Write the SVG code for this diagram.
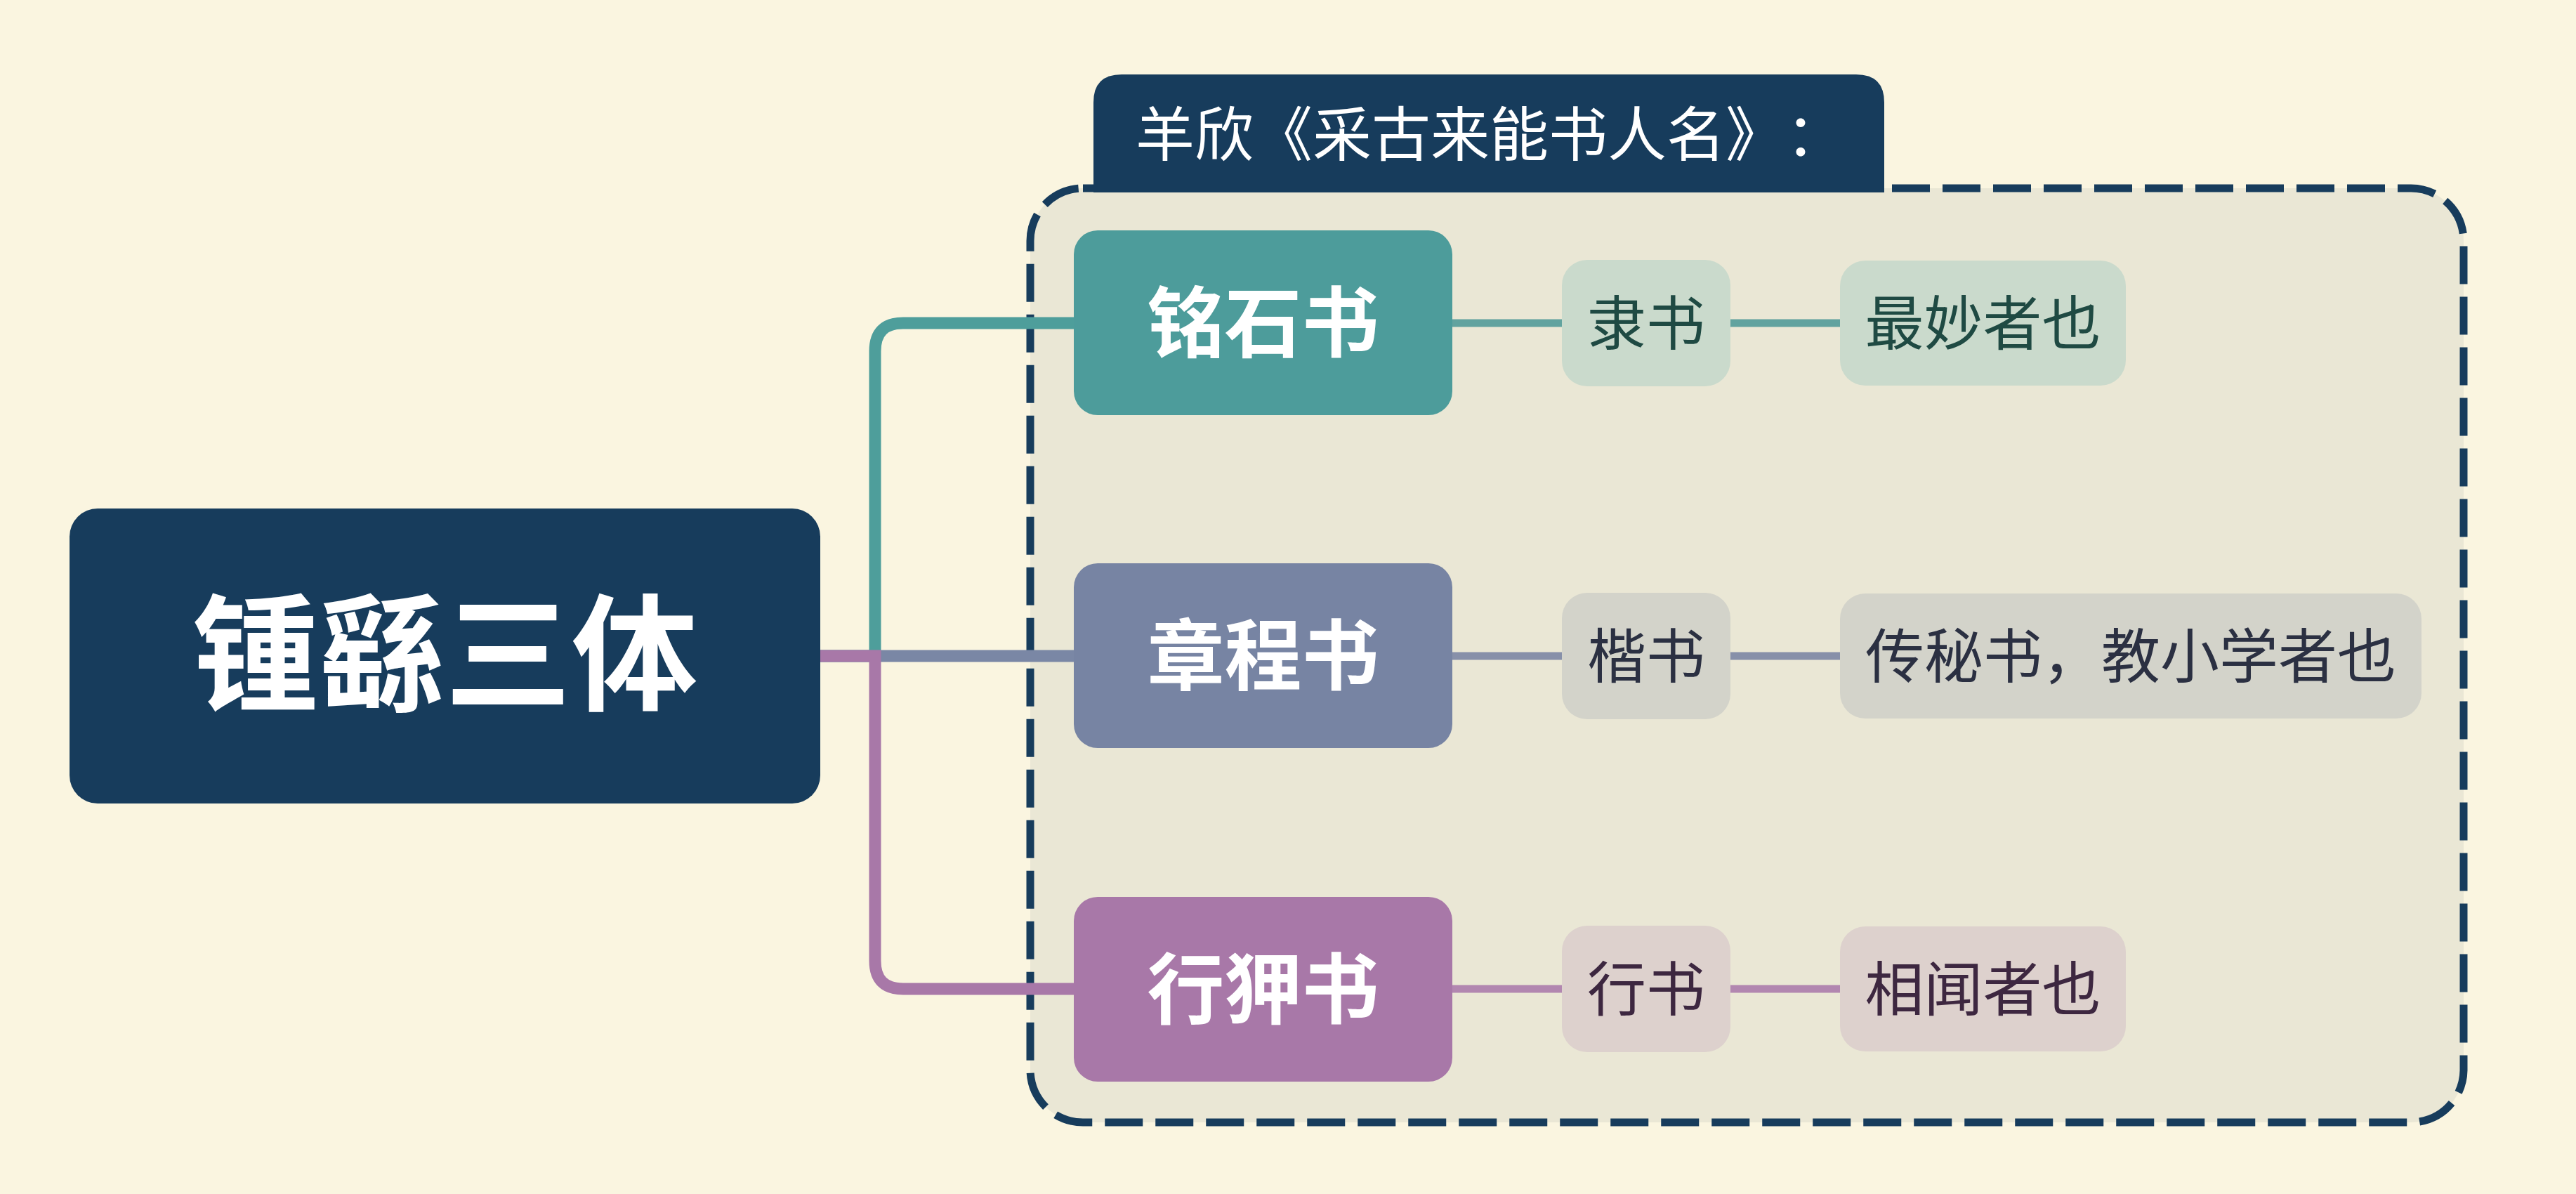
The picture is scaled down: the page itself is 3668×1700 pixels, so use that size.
<svg xmlns="http://www.w3.org/2000/svg" width="3668" height="1700" viewBox="0 0 3668 1700">
<style>
text{font-family:"Noto Sans CJK SC","Noto Sans",sans-serif;}
.root{font-size:180px;font-weight:700;fill:#FFFFFF;text-anchor:middle;}
.br{font-size:110px;font-weight:700;fill:#FFFFFF;text-anchor:middle;}
.ch{font-size:84px;text-anchor:middle;}
.tab{font-size:84px;fill:#FFFFFF;}
.trunk{fill:none;stroke-width:17;}
.link{fill:none;stroke-width:11;}
</style>
<rect x="0" y="0" width="3668" height="1700" fill="#FAF5E0"/>
<g id="boundary">
<rect x="1467" y="268" width="2041" height="1330" rx="75" ry="75" fill="#EAE7D5" stroke="#173C5C" stroke-width="11" stroke-dasharray="54 18"/>
<path d="M1557,274 V146 Q1557,106 1597,106 H2643 Q2683,106 2683,146 V274 Z" fill="#173C5C"/>
<text class="tab" x="1617" y="222">羊欣《采古来能书人名》<tspan dx="44">：</tspan></text>
</g>
<g id="connectors">
<path class="trunk" stroke="#4E9E9B" d="M1168,934 H1246 V500 Q1246,460 1286,460 H1529"/>
<path class="trunk" stroke="#7A87A5" d="M1168,934 H1529"/>
<path class="trunk" stroke="#A878A8" d="M1168,934 H1246 V1368 Q1246,1408 1286,1408 H1529"/>
<path class="link" stroke="#62A39F" d="M2068,460 H2224 M2464,460 H2620"/>
<path class="link" stroke="#8790A9" d="M2068,934 H2224 M2464,934 H2620"/>
<path class="link" stroke="#B287B0" d="M2068,1408 H2224 M2464,1408 H2620"/>
</g>
<g id="root">
<rect x="99" y="724" width="1069" height="420" rx="40" ry="40" fill="#173C5C"/>
<text class="root" x="633.5" y="997">锺繇三体</text>
</g>
<g id="n-mingshi">
<rect x="1529" y="328" width="539" height="263" rx="34" ry="34" fill="#4D9C9B"/>
<text class="br" x="1798.5" y="500">铭石书</text>
</g>
<g id="n-zhangcheng">
<rect x="1529" y="802" width="539" height="263" rx="34" ry="34" fill="#7784A3"/>
<text class="br" x="1798.5" y="974">章程书</text>
</g>
<g id="n-xingxia">
<rect x="1529" y="1277" width="539" height="263" rx="34" ry="34" fill="#A878A8"/>
<text class="br" x="1798.5" y="1449">行狎书</text>
</g>
<g id="n-lishu">
<rect x="2224" y="370" width="240" height="180" rx="36" ry="36" fill="#CADACC"/>
<text class="ch" x="2344" y="491" fill="#1F4A43">隶书</text>
</g>
<g id="n-zuimiao">
<rect x="2620" y="371" width="407" height="178" rx="36" ry="36" fill="#CADACC"/>
<text class="ch" x="2823.5" y="491" fill="#1F4A43">最妙者也</text>
</g>
<g id="n-kaishu">
<rect x="2224" y="844" width="240" height="180" rx="36" ry="36" fill="#D3D3CA"/>
<text class="ch" x="2344" y="965" fill="#2B3042">楷书</text>
</g>
<g id="n-chuanmi">
<rect x="2620" y="845" width="828" height="178" rx="36" ry="36" fill="#D3D3CA"/>
<text class="ch" x="3034" y="965" fill="#2B3042">传秘书，教小学者也</text>
</g>
<g id="n-xingshu">
<rect x="2224" y="1318" width="240" height="180" rx="36" ry="36" fill="#DDD1CD"/>
<text class="ch" x="2344" y="1439" fill="#3D2740">行书</text>
</g>
<g id="n-xiangwen">
<rect x="2620" y="1319" width="407" height="178" rx="36" ry="36" fill="#DDD1CD"/>
<text class="ch" x="2823.5" y="1439" fill="#3D2740">相闻者也</text>
</g>
</svg>
